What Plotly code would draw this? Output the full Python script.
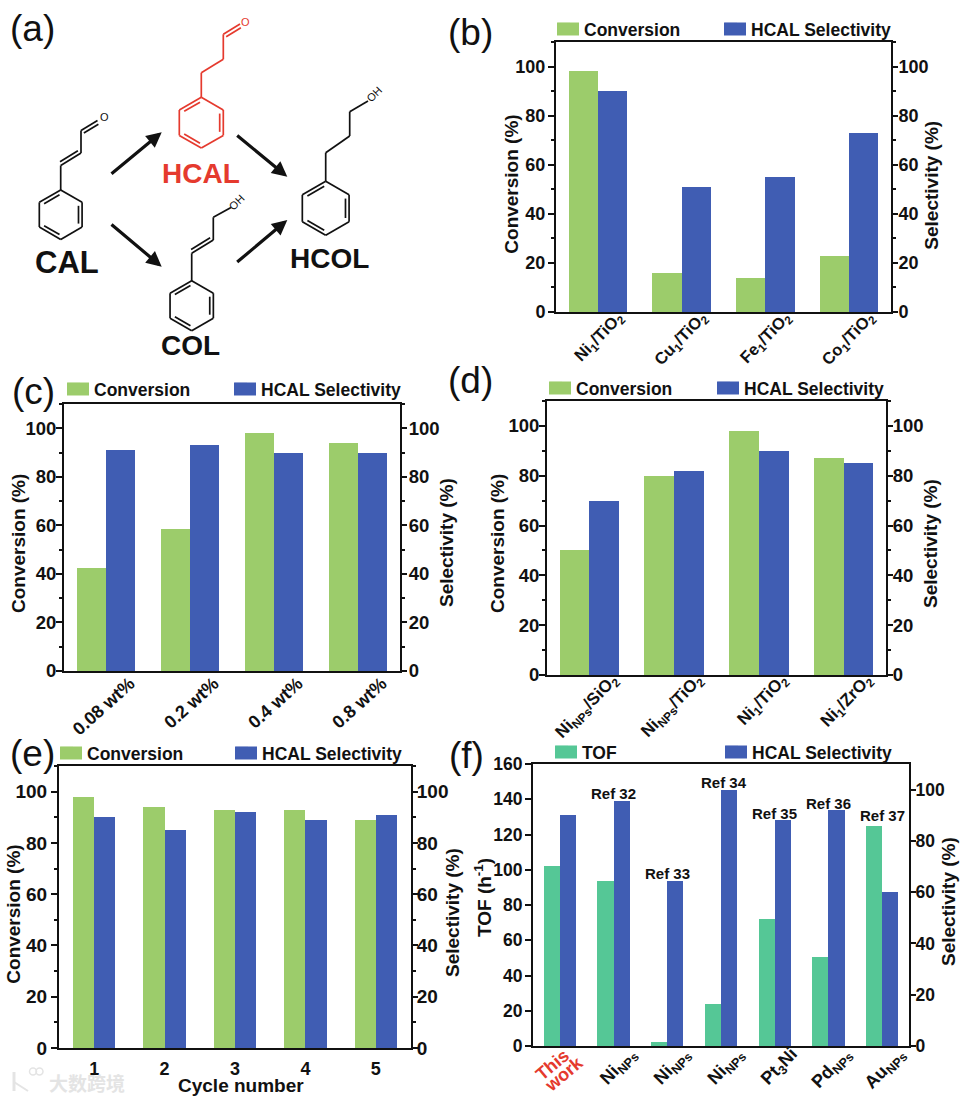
import math
import plotly.graph_objects as go

W, H = 965, 1099
FONT = "Liberation Sans"
INK = "#111111"
GREEN = "#9CCC6B"
BLUE = "#405DB3"
TEAL = "#55C796"
RED = "#E53A2E"

# ---- data ----
b_labels = ["Ni<sub>1</sub>/TiO<sub>2</sub>", "Cu<sub>1</sub>/TiO<sub>2</sub>", "Fe<sub>1</sub>/TiO<sub>2</sub>", "Co<sub>1</sub>/TiO<sub>2</sub>"]
b_conversion = [98, 16, 14, 23]
b_selectivity = [90, 51, 55, 73]

c_labels = ["0.08 wt%", "0.2 wt%", "0.4 wt%", "0.8 wt%"]
c_conversion = [42.5, 58.5, 98, 94]
c_selectivity = [91, 93, 90, 90]

d_labels = ["Ni<sub>NPs</sub>/SiO<sub>2</sub>", "Ni<sub>NPs</sub>/TiO<sub>2</sub>", "Ni<sub>1</sub>/TiO<sub>2</sub>", "Ni<sub>1</sub>/ZrO<sub>2</sub>"]
d_conversion = [50, 80, 98, 87]
d_selectivity = [70, 82, 90, 85]

e_labels = ["1", "2", "3", "4", "5"]
e_conversion = [98, 94, 93, 93, 89]
e_selectivity = [90, 85, 92, 89, 91]

f_labels = [" ", "Ni<sub>NPs</sub>", "Ni<sub>NPs</sub>", "Ni<sub>NPs</sub>",
            "Pt<sub>3</sub>Ni", "Pd<sub>NPs</sub>", "Au<sub>NPs</sub>"]
f_tof = [102, 93.5, 2.5, 24, 72, 50.5, 125]
f_selectivity = [90, 95.5, 64.5, 100, 88, 92, 60]
f_refs = ["Ref 32", "Ref 33", "Ref 34", "Ref 35", "Ref 36", "Ref 37"]
f_ref_index = [1, 2, 3, 4, 5, 6]
f_ref_level = [98.3, 67.4, 102.7, 90.8, 94.7, 89.9]

sel_ticks = [0, 20, 40, 60, 80, 100]
tof_ticks = [0, 20, 40, 60, 80, 100, 120, 140, 160]


def X(px):
    return px / W


def Y(py):
    return 1 - py / H


panels = [
    dict(box=(556, 42, 891, 312), labels=b_labels, a=b_conversion, b=b_selectivity, aname="Conversion", acol=GREEN,
         bw=0.35, rot=-46, shift=20, xstand=-13, xsize=16.5, minor=True, legend=(557, 29, 724), ltitle="Conversion (%)",
         ltpos=(511.7, 184), rtpos=(931.7, 185), lstand=-1, rstand=-3, ysize=18),
    dict(box=(64, 404, 400, 671), labels=c_labels, a=c_conversion, b=c_selectivity, aname="Conversion", acol=GREEN,
         bw=0.35, rot=-42, shift=24, xstand=-7, xsize=18, minor=True, legend=(67, 389, 234), ltitle="Conversion (%)",
         ltpos=(18, 544), rtpos=(447, 543), lstand=-4, rstand=-2, ysize=18.5),
    dict(box=(547, 401, 886, 675), labels=d_labels, a=d_conversion, b=d_selectivity, aname="Conversion", acol=GREEN,
         bw=0.35, rot=-46, shift=23, xstand=-14, xsize=17, minor=True, legend=(549, 388, 717), ltitle="Conversion (%)",
         ltpos=(497, 544), rtpos=(930, 544), lstand=-4, rstand=-4, ysize=18.5),
    dict(box=(59, 766, 411, 1048), labels=e_labels, a=e_conversion, b=e_selectivity, aname="Conversion", acol=GREEN,
         bw=0.30, rot=0, shift=0, xstand=3, xsize=18, minor=True, legend=(60, 753, 235), ltitle="Conversion (%)",
         ltpos=(12.7, 914), rtpos=(452, 913), lstand=0, rstand=-5, ysize=19, xtitle=("Cycle number", 241, 1085)),
    dict(box=(533, 764, 909, 1046), labels=f_labels, a=f_tof, b=f_selectivity, aname="TOF", acol=TEAL,
         bw=0.30, rot=-46, shift=17, xstand=-12, xsize=18, minor=False, legend=(555, 752, 725), ltitle="TOF (h<sup>-1</sup>)",
         ltpos=(483, 898), rtpos=(948, 902), lstand=-1, rstand=-4, ysize=17.5, lrange=160),
]

fig = go.Figure()
layout = dict(
    width=W, height=H, autosize=False, margin=dict(l=0, r=0, t=0, b=0, pad=0),
    paper_bgcolor="white", plot_bgcolor="white", barmode="overlay",
    font=dict(family=FONT, size=18, color=INK),
    bargap=0, showlegend=True,
)
AX = dict(showgrid=False, zeroline=False, showline=True, linecolor=INK, linewidth=2, automargin=False)
shapes = []
annotations = []


def label(px, py, text, size, color=INK, bold=True, angle=0, family=FONT):
    font = dict(size=size, color=color, family=family)
    if bold:
        font["weight"] = "bold"
    annotations.append(dict(xref="paper", yref="paper", x=X(px), y=Y(py), text=text, showarrow=False, font=font,
                            textangle=angle, xanchor="center", yanchor="middle"))


for i, p in enumerate(panels):
    n = i + 1
    sx = "" if n == 1 else str(n)
    yl = 2 * n - 1
    yr = 2 * n
    yln = f"y{yl}" if yl > 1 else "y"
    x0, t, x1, bt = p["box"]
    xs = list(range(len(p["labels"])))
    lega = "legend" if n == 1 else f"legend{yl}"
    legb = f"legend{yr}"
    bw = p["bw"]
    fig.add_bar(x=xs, y=p["a"], width=bw, offset=-bw, name=p["aname"], marker=dict(color=p["acol"], line_width=0),
                xaxis=f"x{sx}", yaxis=yln, legend=lega, showlegend=True)
    fig.add_bar(x=xs, y=p["b"], width=bw, offset=0, name="HCAL Selectivity", marker=dict(color=BLUE, line_width=0),
                xaxis=f"x{sx}", yaxis=f"y{yr}", legend=legb, showlegend=True)
    lrange = p.get("lrange", 110)
    xa = dict(AX, domain=[X(x0), X(x1)], range=[-0.5, len(xs) - 0.5], tickmode="array", tickvals=xs,
              ticktext=p["labels"], tickangle=p["rot"], ticks="", mirror=True, anchor=yln,
              tickfont=dict(size=p["xsize"], color=INK, family=FONT, weight="bold"), ticklabelstandoff=p["xstand"])
    if p["shift"]:
        xa["ticklabelshift"] = p["shift"]
    layout[f"xaxis{sx}"] = xa
    ya = dict(AX, domain=[Y(bt), Y(t)], range=[0, lrange], side="left", anchor=f"x{sx}", tickmode="array",
              tickvals=tof_ticks if lrange == 160 else sel_ticks, ticks="outside", ticklen=6, tickwidth=2,
              tickcolor=INK, tickfont=dict(size=p["ysize"], color=INK, family=FONT, weight="bold"),
              ticklabelstandoff=p["lstand"])
    yb = dict(AX, domain=[Y(bt), Y(t)], range=[0, 110], side="right", anchor=f"x{sx}", overlaying=yln,
              tickmode="array", tickvals=sel_ticks, ticks="outside", ticklen=5, tickwidth=2, tickcolor=INK,
              tickfont=dict(size=p["ysize"], color=INK, family=FONT, weight="bold"), ticklabelstandoff=p["rstand"])
    if p["minor"]:
        mn = dict(tick0=0, dtick=10, ticks="outside", ticklen=3, tickwidth=1.5, tickcolor=INK, showgrid=False)
        ya["minor"] = mn
        yb["minor"] = mn
    layout[f"yaxis{yl}" if yl > 1 else "yaxis"] = ya
    layout[f"yaxis{yr}"] = yb
    label(p["ltpos"][0], p["ltpos"][1], p["ltitle"], 19, angle=-90)
    label(p["rtpos"][0], p["rtpos"][1], "Selectivity (%)", 19, angle=-90)
    if p.get("xtitle"):
        label(p["xtitle"][1], p["xtitle"][2], p["xtitle"][0], 19)
    # real legends, one per entry; keys are widened by a rectangle lying under each of them
    lx, ly, lx2 = p["legend"]
    for sw, col, leg in ((lx, p["acol"], lega), (lx2, BLUE, legb)):
        shapes.append(dict(type="rect", xref="paper", yref="paper", x0=X(sw), x1=X(sw + 22), y0=Y(ly + 6.5), y1=Y(ly - 6.5),
                           fillcolor=col, line_width=0))
        layout[leg] = dict(x=X(sw - 13), y=Y(ly), xanchor="left", yanchor="middle", orientation="h",
                           bgcolor="rgba(0,0,0,0)", borderwidth=0,
                           font=dict(size=17.5, family=FONT, weight="bold", color=INK),
                           itemclick=False, itemdoubleclick=False)

# first category label of panel (f), in red
label(552.3, 1065, "This", 18, RED, angle=-40)
label(564, 1074, "work", 18, RED, angle=-40)


def line(p, q, color=INK, w=1.7):
    shapes.append(dict(type="line", xref="paper", yref="paper", x0=X(p[0]), y0=Y(p[1]), x1=X(q[0]), y1=Y(q[1]),
                       line=dict(color=color, width=w)))


def inner(p, q, centre=None, off=3.6, trim=0.14, color=INK, side=1):
    dx, dy = q[0] - p[0], q[1] - p[1]
    L = math.hypot(dx, dy)
    nx, ny = -dy / L * off * side, dx / L * off * side
    if centre is not None:
        mx, my = (p[0] + q[0]) / 2, (p[1] + q[1]) / 2
        if (centre[0] - mx) * nx + (centre[1] - my) * ny < 0:
            nx, ny = -nx, -ny
    a = (p[0] + dx * trim + nx, p[1] + dy * trim + ny)
    b = (q[0] - dx * trim + nx, q[1] - dy * trim + ny)
    line(a, b, color)


def benzene(cx, cy, r, color=INK):
    v = [(cx + r * math.sin(math.radians(60 * k)), cy - r * math.cos(math.radians(60 * k))) for k in range(6)]
    for k in range(6):
        line(v[k], v[(k + 1) % 6], color)
    for k in (1, 3, 5):
        inner(v[k], v[(k + 1) % 6], (cx, cy), color=color)


def chain(pts, color=INK, doubles=()):
    for a, b in zip(pts, pts[1:]):
        line(a, b, color)
    for k, side in doubles:
        inner(pts[k], pts[k + 1], color=color, side=side, trim=0.06)


def arrow(p, q):
    annotations.append(dict(xref="paper", yref="paper", x=X(q[0]), y=Y(q[1]), ax=p[0] - q[0], ay=p[1] - q[1],
                            axref="pixel", ayref="pixel", text="", showarrow=True, arrowhead=2, arrowsize=0.95,
                            arrowwidth=3.2, arrowcolor=INK))


# panel (a) scheme
benzene(60.7, 214.7, 24.7)
chain([(60.7, 190), (60.7, 165.5), (81, 153), (81, 130.5), (97.5, 120.5)], doubles=[(1, -1), (3, 1)])
label(104.5, 116.5, "O", 11, bold=False)
benzene(201.3, 122.7, 25.4, RED)
chain([(201.3, 97.3), (201.3, 72.7), (223.3, 59.3), (223.3, 34.3), (240, 24)], RED, doubles=[(3, 1)])
label(245.7, 22.3, "O", 11, RED, bold=False)
benzene(325.7, 208.3, 27)
chain([(325.7, 181), (325.7, 152.7), (349.7, 136), (349.7, 111.7), (368, 101)])
label(374.3, 94, "OH", 11, bold=False, angle=-45)
benzene(191.7, 305.7, 25)
chain([(191.7, 281), (191.7, 253.3), (213.3, 240), (213.3, 217.3), (231, 207.5)], doubles=[(1, -1)])
label(236.7, 201.7, "OH", 11, bold=False, angle=-45)
arrow((110, 175), (161.7, 132.3))
arrow((110, 223.3), (161.7, 266.7))
arrow((235.7, 134.3), (287.3, 176.7))
arrow((235.7, 263.3), (287.3, 220))
label(66.7, 262, "CAL", 31)
label(201, 173, "HCAL", 28, RED)
label(329, 259, "HCOL", 28)
label(190, 345, "COL", 28)

# panel letters
for px, py, t in [(32, 29, "(a)"), (470, 33, "(b)"), (33, 392, "(c)"), (470, 380, "(d)"), (32, 753, "(e)"), (466, 755, "(f)")]:
    label(px, py, t, 37, bold=False)

# Ref labels of panel (f)
for txt, i, lev in zip(f_refs, f_ref_index, f_ref_level):
    annotations.append(dict(xref="x5", yref="y10", x=i, y=lev, text=txt, showarrow=False, yanchor="middle",
                            xanchor="center", xshift=3 if txt == "Ref 34" else 0,
                            font=dict(size=15, family=FONT, weight="bold", color=INK)))

# faint watermark
label(86.5, 1082, "大数跨境", 19, "#E4E4E4", bold=True, family="Noto Sans CJK SC")
for cx in (33, 39.5):
    shapes.append(dict(type="circle", xref="paper", yref="paper", x0=X(cx - 3.5), x1=X(cx + 3.5), y0=Y(1075), y1=Y(1068),
                       line=dict(color="#E4E4E4", width=1.5)))
line((14, 1072), (14, 1091), "#E4E4E4", 3)
line((14, 1082), (28, 1091), "#E4E4E4", 2)

layout["shapes"] = shapes
layout["annotations"] = annotations
fig.update_layout(**layout)
fig.write_html("out.html", post_script="document.body.style.margin='0';", config={"displayModeBar": False})
